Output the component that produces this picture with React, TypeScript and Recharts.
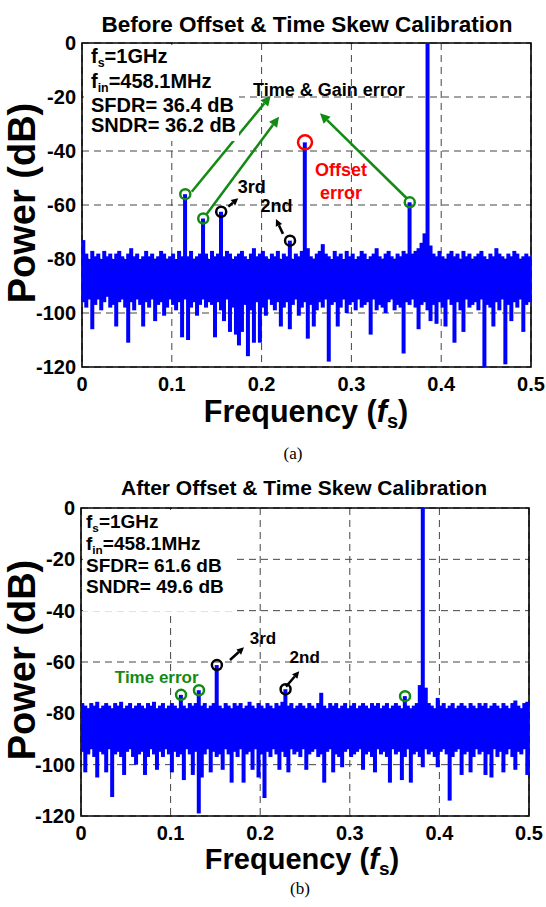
import { ComposedChart, Bar, XAxis, YAxis, CartesianGrid, ReferenceArea, ReferenceDot, ReferenceLine } from "recharts";

const BINS = 150;
const BIN = 0.5 / BINS;

const freqTicks = [0, 0.1, 0.2, 0.3, 0.4, 0.5];
const powerTicks = [-120, -100, -80, -60, -40, -20, 0];

// (a) before calibration: noise floor upper / lower edge per bin (dB)
const noiseTopA = [
  -73, -78, -80, -77, -79, -78, -80, -77, -79, -78,
  -80, -78, -77, -79, -80, -78, -76, -79, -78, -80,
  -79, -77, -79, -78, -80, -79, -77, -78, -80, -79,
  -78, -80, -77, -79, -78, -79, -77, -80, -79, -78,
  -79, -78, -80, -77, -79, -78, -80, -79, -77, -78,
  -80, -79, -78, -77, -79, -80, -78, -76, -79, -78,
  -77, -79, -80, -78, -79, -77, -80, -78, -79, -78,
  -80, -78, -79, -77, -78, -76, -79, -80, -78, -77,
  -74.5, -78, -79, -80, -77, -79, -78, -80, -77, -79,
  -78, -80, -79, -77, -78, -80, -79, -78, -76, -79,
  -80, -78, -77, -79, -80, -78, -79, -77, -78, -79,
  -78, -77, -76, -74, -70.5, -72, -75, -78, -79, -77,
  -79, -80, -78, -77, -79, -78, -80, -77, -79, -78,
  -80, -79, -78, -77, -79, -80, -78, -79, -76, -78,
  -79, -80, -78, -79, -77, -78, -80, -79, -78, -79,
];
const noiseBottomA = [
  -96, -98, -95, -106, -97, -95, -99, -96, -94, -98,
  -97, -105, -96, -95, -98, -111, -96, -99, -95, -97,
  -105, -96, -98, -95, -103, -97, -96, -101, -98, -95,
  -97, -99, -96, -109, -95, -110, -98, -96, -101, -97,
  -95, -98, -96, -97, -109, -96, -99, -103, -95, -107,
  -98, -108, -112, -107, -97, -116, -99, -111, -96, -111,
  -98, -101, -95, -97, -99, -96, -105, -98, -96, -106,
  -97, -95, -101, -98, -96, -109.5, -97, -105, -99, -96,
  -98, -95, -118, -97, -96, -105, -98, -95, -100, -97,
  -96, -99, -95, -98, -97, -96, -108, -95, -99, -97,
  -98, -100, -96, -95, -99, -97, -98, -115, -96, -97,
  -95, -98, -106, -97, -96, -99, -103, -97, -104, -96,
  -98, -105, -95, -97, -111, -96, -99, -107, -95, -98,
  -97, -96, -99, -95, -120, -97, -98, -105, -96, -99,
  -95, -119, -97, -103, -96, -98, -95, -107, -97, -96,
];
const toneFreqA = [0.1166, 0.135, 0.1537, 0.2309, 0.2494, 0.3645, 0.3838];
const toneLevelA = [-56, -65, -62.5, -73.2, -36.8, -59, 0];

// (b) after calibration
const noiseTopB = [
  -76, -77, -78, -76, -77, -75.5, -78, -77, -76, -77,
  -78, -76, -77, -75.5, -78, -77, -76, -78, -77, -76,
  -77, -78, -76, -77, -75.5, -78, -77, -76, -78, -77,
  -76, -77, -78, -76, -77, -78, -76, -77, -76, -78,
  -77, -76, -78, -77, -76, -75.5, -77, -78, -76, -77,
  -78, -76, -77, -76, -78, -77, -75.5, -77, -78, -76,
  -77, -78, -76, -77, -78, -76, -77, -75.5, -78, -77,
  -76, -78, -77, -76, -77, -78, -76, -77, -78, -76,
  -72, -77, -78, -76, -77, -76, -78, -77, -76, -78,
  -77, -76, -78, -77, -76, -77, -78, -76, -77, -76,
  -78, -77, -76, -78, -77, -76, -77, -78, -76, -77,
  -78, -77, -76, -69, -75, -70, -76, -77, -78, -74,
  -77, -76, -78, -77, -76, -78, -77, -76, -77, -78,
  -76, -77, -78, -76, -77, -76, -78, -77, -76, -77,
  -78, -76, -77, -78, -76, -75, -77, -78, -76, -75.5,
];
const noiseBottomB = [
  -95, -103, -96, -94, -97, -105, -95, -96, -103, -94,
  -112.6, -96, -95, -97, -104, -95, -94, -97, -100, -96,
  -95, -104, -97, -94, -96, -102, -95, -97, -94, -96,
  -103, -95, -97, -96, -106, -94, -96, -104, -95, -119,
  -105, -96, -94, -103, -95, -97, -96, -102, -94, -96,
  -107, -95, -97, -94, -107, -96, -95, -102, -94, -105,
  -96, -113, -95, -97, -94, -96, -102, -95, -97, -103,
  -94, -96, -95, -97, -94, -102, -96, -95, -94, -97,
  -96, -107, -95, -94, -103, -96, -97, -101, -95, -94,
  -97, -96, -95, -94, -102, -96, -95, -97, -103, -94,
  -96, -95, -97, -107, -94, -96, -95, -106, -97, -94,
  -107, -96, -95, -97, -101, -94, -96, -95, -97, -101,
  -95, -94, -96, -114, -97, -95, -94, -104, -96, -95,
  -103, -97, -94, -96, -95, -104, -96, -105, -94, -97,
  -95, -103, -96, -94, -97, -102, -95, -96, -94, -104,
];
const toneFreqB = [0.1117, 0.133, 0.1526, 0.229, 0.363, 0.3827];
const toneLevelB = [-72.8, -71, -61.2, -70.6, -73.3, 0];

// circled spurs (index into the tone lists)
const greenA = [0, 1, 5];
const blackA = [2, 3];
const redA = [4];
const greenB = [0, 1, 4];
const blackB = [2, 3];

// annotation arrows: [fromFreq, fromDb, toFreq, toDb]
const arrowsA = [
  { c: "#138a13", p: [0.1222, -55.1, 0.2101, -19.5] },
  { c: "#138a13", p: [0.1389, -63.3, 0.2194, -27.3] },
  { c: "#138a13", p: [0.3616, -57.5, 0.265, -26] },
  { c: "#000", p: [0.163, -60.6, 0.174, -57.5] },
  { c: "#000", p: [0.2238, -70.7, 0.216, -65.2] },
];
const arrowsB = [
  { c: "#000", p: [0.1663, -59.2, 0.1819, -54.3] },
  { c: "#000", p: [0.2288, -69.6, 0.2436, -63.6] },
];
const notesA = [
  { t: "Time & Gain error", f: 0.275, l: -17.4, c: "#000" },
  { t: "3rd", f: 0.189, l: -53.2, c: "#000" },
  { t: "2nd", f: 0.2166, l: -60.4, c: "#000" },
  { t: "Offset", f: 0.2884, l: -47, c: "#ff0000" },
  { t: "error", f: 0.2884, l: -55.7, c: "#ff0000" },
];
const notesB = [
  { t: "Time error", f: 0.0845, l: -66, c: "#138a13" },
  { t: "3rd", f: 0.2031, l: -50.8, c: "#000" },
  { t: "2nd", f: 0.2497, l: -58.3, c: "#000" },
];

const binOf = (f: number) => Math.min(BINS - 1, Math.max(0, Math.round(f / BIN - 0.5)));
const binCenter = (f: number) => (binOf(f) + 0.5) * BIN;

function buildRows(tops: number[], bottoms: number[], toneF: number[], toneL: number[]) {
  const rows = tops.map((t, i) => ({ f: (i + 0.5) * BIN, range: [bottoms[i], t] }));
  toneF.forEach((f, k) => {
    const i = binOf(f);
    rows[i].range = [rows[i].range[0], toneL[k]];
  });
  return rows;
}

const rowsA = buildRows(noiseTopA, noiseBottomA, toneFreqA, toneLevelA);
const rowsB = buildRows(noiseTopB, noiseBottomB, toneFreqB, toneLevelB);

const FONT = "'Liberation Sans', Arial, Helvetica, sans-serif";
const tickStyle = { fill: "#000", fontSize: 20, fontWeight: "bold", fontFamily: FONT };

// spectrum bin: the bar rect, widened a little so neighbouring bins close up
const binShape = (p: any) => {
  if (p.height == null || p.width == null) return null;
  const y = p.height < 0 ? p.y + p.height : p.y;
  const h = Math.abs(p.height);
  const w = Math.max(p.width, 2.4);
  const cx = p.x + p.width / 2;
  return <rect x={cx - w / 2 - 0.7} y={y} width={w + 1.4} height={h} fill="#0000ff" />;
};

const arrowShape = (color: string, head: number) => (p: any) => {
  const { x1, y1, x2, y2 } = p;
  const a = Math.atan2(y2 - y1, x2 - x1);
  const bx = x2 - head * Math.cos(a);
  const by = y2 - head * Math.sin(a);
  const w = head * 0.5;
  const pts = `${x2},${y2} ${bx - w * Math.sin(a)},${by + w * Math.cos(a)} ${bx + w * Math.sin(a)},${by - w * Math.cos(a)}`;
  return (
    <g>
      <line x1={x1} y1={y1} x2={bx} y2={by} stroke={color} strokeWidth={2.5} />
      <polygon points={pts} fill={color} />
    </g>
  );
};

const noteShape = (text: string, color: string, size: number) => (p: any) => (
  <text x={p.cx} y={p.cy} textAnchor="middle" dominantBaseline="central" fill={color}
    fontSize={size} fontWeight="bold" fontFamily={FONT}>{text}</text>
);

function Spectrum(props: any) {
  const { rows, toneF, toneL, green, black, red, arrows, notes, height, margin, noteSize, top } = props;
  return (
    <div style={{ position: "absolute", left: 0, top }}>
      <ComposedChart width={546} height={height} data={rows} margin={margin}>
        <CartesianGrid stroke="#444" strokeDasharray="7 5" strokeWidth={1} />
        <XAxis type="number" dataKey="f" domain={[0, 0.5]} ticks={freqTicks} interval={0}
          allowDataOverflow tickLine={false} axisLine={false} tickSize={0} tickMargin={10}
          height={40} tick={tickStyle} />
        <YAxis type="number" domain={[-120, 0]} ticks={powerTicks} interval={0}
          allowDataOverflow tickLine={false} axisLine={false} tickSize={0} tickMargin={6}
          width={60} tick={tickStyle} />
        <Bar dataKey="range" fill="#0000ff" shape={binShape} barSize={2.6} isAnimationActive={false} />
        {green.map((k: number) => (
          <ReferenceDot key={`g${k}`} x={binCenter(toneF[k])} y={toneL[k]} r={5}
            fill="none" stroke="#138a13" strokeWidth={2.5} />
        ))}
        {black.map((k: number) => (
          <ReferenceDot key={`b${k}`} x={binCenter(toneF[k])} y={toneL[k]} r={5}
            fill="none" stroke="#000" strokeWidth={2.5} />
        ))}
        {red.map((k: number) => (
          <ReferenceDot key={`r${k}`} x={binCenter(toneF[k])} y={toneL[k]} r={7}
            fill="none" stroke="#ff0000" strokeWidth={2.5} />
        ))}
        {arrows.map((a: any, i: number) => (
          <ReferenceLine key={`a${i}`} segment={[{ x: a.p[0], y: a.p[1] }, { x: a.p[2], y: a.p[3] }]}
            shape={arrowShape(a.c, a.c === "#000" ? 7 : 10)} />
        ))}
        {notes.map((n: any, i: number) => (
          <ReferenceDot key={`n${i}`} x={n.f} y={n.l} r={1}
            shape={noteShape(n.t, n.c, noteSize)} />
        ))}
        <ReferenceArea x1={0} x2={0.5} y1={-120} y2={0} fill="none" stroke="#000" strokeWidth={1.6} />
      </ComposedChart>
    </div>
  );
}

function Sub({ x, y, size, base, sub }: any) {
  return (
    <text x={x} y={y} fontSize={size} fontWeight="bold" fontFamily={FONT} fill="#000">
      f<tspan fontSize={size * 0.62} dy={4}>{sub}</tspan><tspan dy={-4}>{base}</tspan>
    </text>
  );
}

function Overlay() {
  const bold = { fontWeight: "bold", fontFamily: FONT, fill: "#000" } as any;
  return (
    <svg width={546} height={907} style={{ position: "absolute", left: 0, top: 0, pointerEvents: "none" }}>
      {/* panel (a) */}
      <text x={307} y={32} fontSize={22.5} textAnchor="middle" {...bold}>Before Offset &amp; Time Skew Calibration</text>
      <rect x={84} y={45} width={155} height={96} fill="#fff" />
      <Sub x={91} y={63} size={20} sub="s" base="=1GHz" />
      <Sub x={91} y={88} size={20} sub="in" base="=458.1MHz" />
      <text x={91} y={112} fontSize={20} {...bold}>SFDR= 36.4 dB</text>
      <text x={91} y={132} fontSize={20} {...bold}>SNDR= 36.2 dB</text>
      <text x={22} y={203} fontSize={38} textAnchor="middle" dominantBaseline="central"
        transform="rotate(-90 22 203)" {...bold}>Power (dB)</text>
      <text x={306} y={422} fontSize={30.5} textAnchor="middle" {...bold}>
        Frequency (<tspan fontStyle="italic">f</tspan><tspan fontSize={20} dy={6}>s</tspan><tspan dy={-6}>)</tspan>
      </text>
      <text x={293} y={459} fontSize={17} textAnchor="middle" fontFamily="'Liberation Serif', 'Times New Roman', serif">(a)</text>

      {/* panel (b) */}
      <text x={304} y={495} fontSize={21} textAnchor="middle" {...bold}>After Offset &amp; Time Skew Calibration</text>
      <rect x={83} y={510} width={150} height={101} fill="#fff" />
      <Sub x={86} y={528} size={19} sub="s" base="=1GHz" />
      <Sub x={86} y={550} size={19} sub="in" base="=458.1MHz" />
      <text x={86} y={572} fontSize={19} {...bold}>SFDR= 61.6 dB</text>
      <text x={86} y={593} fontSize={19} {...bold}>SNDR= 49.6 dB</text>
      <text x={22} y={660} fontSize={38} textAnchor="middle" dominantBaseline="central"
        transform="rotate(-90 22 660)" {...bold}>Power (dB)</text>
      <text x={302} y={869} fontSize={29} textAnchor="middle" {...bold}>
        Frequency (<tspan fontStyle="italic">f</tspan><tspan fontSize={19} dy={6}>s</tspan><tspan dy={-6}>)</tspan>
      </text>
      <text x={300} y={894} fontSize={17} textAnchor="middle" fontFamily="'Liberation Serif', 'Times New Roman', serif">(b)</text>
    </svg>
  );
}

export default function App() {
  return (
    <div style={{ position: "absolute", left: 0, top: 0, width: 546, height: 907, background: "#fff" }}>
      <Spectrum top={0} height={450} margin={{ top: 43, right: 15, bottom: 43, left: 22 }}
        rows={rowsA} toneF={toneFreqA} toneL={toneLevelA} green={greenA} black={blackA} red={redA}
        arrows={arrowsA} notes={notesA} noteSize={18} />
      <Spectrum top={460} height={440} margin={{ top: 48, right: 17, bottom: 44, left: 21 }}
        rows={rowsB} toneF={toneFreqB} toneL={toneLevelB} green={greenB} black={blackB} red={[]}
        arrows={arrowsB} notes={notesB} noteSize={17} />
      <Overlay />
    </div>
  );
}
